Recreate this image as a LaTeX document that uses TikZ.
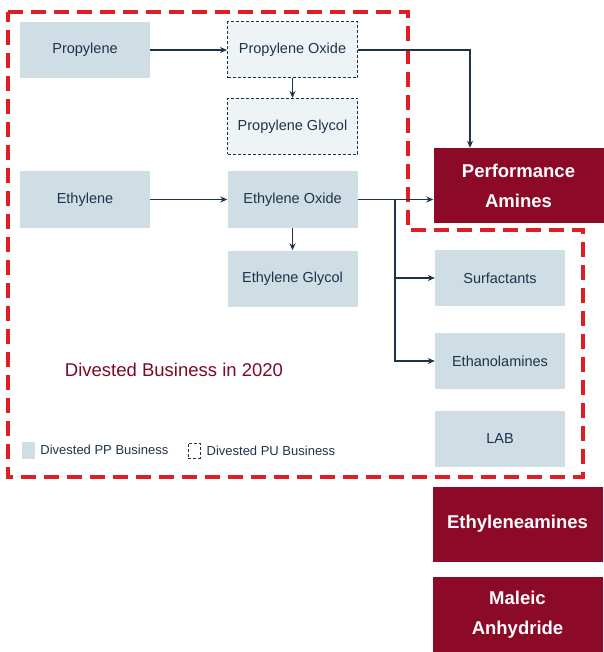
\documentclass[tikz,border=0pt]{standalone}
\usepackage{fontspec}
\setmainfont{Liberation Sans}
\definecolor{BoxColor}{RGB}{206,222,228}
\definecolor{PaleColor}{RGB}{238,243,246}
\definecolor{InkColor}{RGB}{30,50,76}
\definecolor{WineColor}{RGB}{140,10,40}
\definecolor{RedLine}{RGB}{222,30,36}
\usetikzlibrary{positioning, arrows.meta, calc}
\tikzstyle{arrow} = [line width=1.2pt, InkColor, -{Stealth[length=7pt,width=6pt]}]
\tikzstyle{ppbox} = [rectangle, fill=BoxColor, text=InkColor, minimum width=130pt, minimum height=56pt, inner sep=0pt, font=\fontsize{14.5}{17}\selectfont]
\tikzstyle{pubox} = [ppbox, fill=PaleColor, draw=InkColor, densely dashed, line width=1pt]
\tikzstyle{keepbox} = [rectangle, fill=WineColor, text=white, minimum width=170pt, minimum height=75pt, inner sep=0pt, align=center, font=\fontsize{18.5}{30}\selectfont\bfseries]

\begin{document}
\begin{tikzpicture}[x=1pt, y=-1pt]
      \useasboundingbox (0,0) rectangle (603,652);

      % Divested area outline
      \draw[RedLine, line width=3.4pt, dash pattern=on 15pt off 8pt]
        (8,12) -- (408,12) -- (408,230) -- (583,230) -- (583,477) -- (8,477) -- cycle;

      % Propylene chain
      \node[ppbox] (propylene) at (85,50) {Propylene};
      \node[pubox] (pox) at (292.5,50) {Propylene Oxide};
      \node[pubox] (pglycol) at (292.5,126.5) {Propylene Glycol};

      % Ethylene chain
      \node[ppbox] (ethylene) at (85,199.5) {Ethylene};
      \node[ppbox] (eox) at (292.5,199.5) {Ethylene Oxide};
      \node[ppbox] (eglycol) at (292.5,278.5) {Ethylene Glycol};

      % Derivatives
      \node[ppbox] (surf) at (500,278) {Surfactants};
      \node[ppbox] (ethanol) at (500,361) {Ethanolamines};
      \node[ppbox] (lab) at (500,438.5) {LAB};

      % Retained business
      \node[keepbox] (pamines) at (518.5,185.5) {Performance\\Amines};
      \node[keepbox] (eamines) at (517.5,524) {Ethyleneamines};
      \node[keepbox] (maleic) at (517.5,614.5) {Maleic\\Anhydride};

      % Connections
      \draw[arrow] (propylene) -- (pox);
      \draw[arrow] (pox) -- (pglycol);
      \draw[arrow] (pox.east) -| ([xshift=-48.5pt]pamines.north);
      \draw[arrow] (ethylene) -- (eox);
      \draw[arrow] (eox) -- (eglycol);
      \draw[arrow] (eox.east) -- (eox.east -| pamines.west);
      \coordinate (split) at (395,199.5);
      \draw[arrow] (split) |- (surf.west);
      \draw[arrow] (split) |- (ethanol.west);

      % Caption
      \node[text=WineColor!90!black, font=\fontsize{18.5}{22}\selectfont] (caption) at (174,370) {Divested Business in 2020};

      % Legend
      \node[rectangle, fill=BoxColor, minimum width=13pt, minimum height=17pt, inner sep=0pt] (legpp) at (28.5,450) {};
      \node[right=5pt of legpp, inner sep=0pt, text=InkColor, font=\fontsize{13}{15}\selectfont] (legpptext) {Divested PP Business};
      \node[rectangle, draw=InkColor, densely dashed, line width=0.9pt, minimum width=12pt, minimum height=15pt, inner sep=0pt] (legpu) at (194,450.5) {};
      \node[right=6pt of legpu, inner sep=0pt, text=InkColor, font=\fontsize{13}{15}\selectfont] (legputext) {Divested PU Business};
    \end{tikzpicture}
\end{document}
